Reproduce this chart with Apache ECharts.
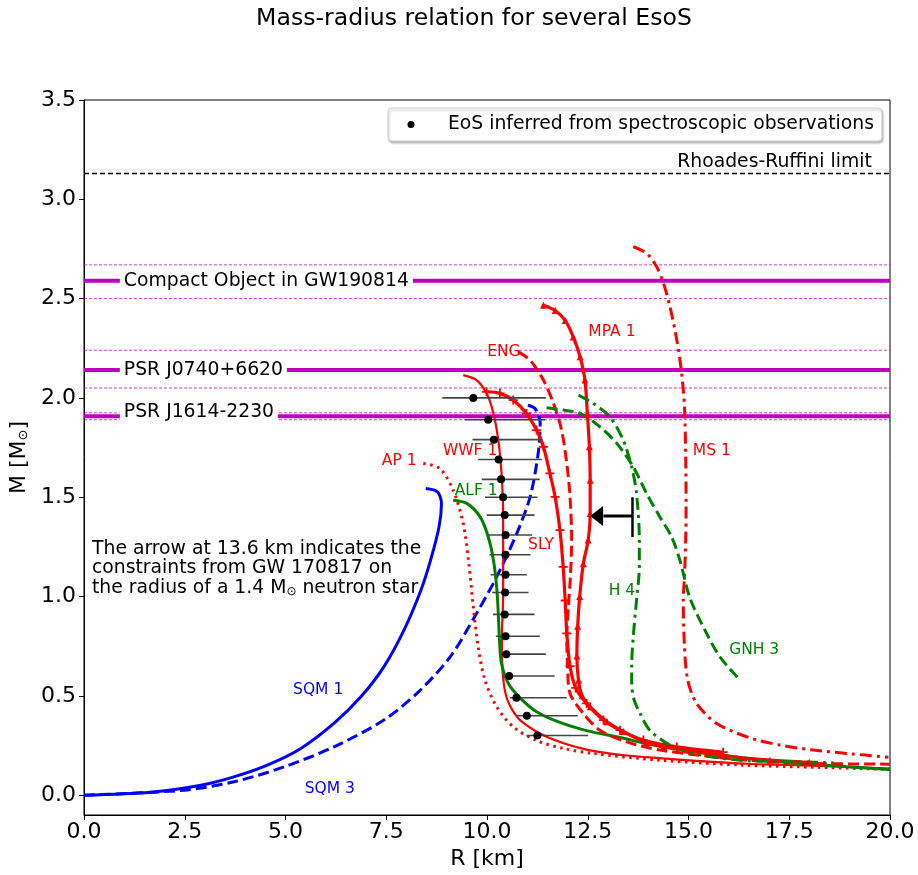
<!DOCTYPE html>
<html><head><meta charset="utf-8">
<script src="https://cdn.jsdelivr.net/npm/echarts@6/dist/echarts.min.js"></script>
<style>html,body{margin:0;padding:0;background:#fff}#c{width:918px;height:875px}</style>
</head><body><div id="c"></div>
<script>
const FONT = 'DejaVu Sans';
const xTicks = [0, 2.5, 5, 7.5, 10, 12.5, 15, 17.5, 20];
const yTicks = [0, 0.5, 1.0, 1.5, 2.0, 2.5, 3.0, 3.5];

// Observational points with horizontal error bars
const obsR  = [9.66,10.03,10.17,10.29,10.35,10.40,10.44,10.46,10.46,10.46,10.45,10.44,10.46,10.48,10.55,10.73,10.99,11.25];
const obsM  = [2.00,1.89,1.79,1.69,1.59,1.50,1.41,1.31,1.21,1.11,1.02,0.91,0.80,0.71,0.60,0.49,0.40,0.30];
const obsLo = [8.89,9.45,9.64,9.78,9.87,9.95,9.99,10.01,10.06,10.09,10.13,10.15,10.22,10.32,10.43,10.57,10.74,10.98];
const obsHi = [11.46,11.44,11.38,11.36,11.31,11.25,11.18,11.12,11.08,10.99,11.03,11.18,11.31,11.46,11.68,11.98,12.25,12.51];

// Mass limits [lower, central, upper]
const rhoadesRuffini = 3.13;
const gw190814 = [2.50, 2.59, 2.67];
const j0740 = [2.05, 2.14, 2.24];
const j1614 = [1.89, 1.908, 1.925];

// GW170817 radius constraint
const arrowR = 13.61, arrowM = 1.406, arrowBarLo = 1.30, arrowBarHi = 1.50, arrowTipR = 12.56;

// EoS curves [R km, M Msun]
const sqm1 = [[0,0],[1.66,0.015],[2.90,0.05],[3.72,0.092],[4.55,0.151],[5.38,0.235],[6.20,0.361],[6.87,0.495],[7.44,0.646],[7.94,0.831],[8.36,1.032],[8.60,1.183],[8.81,1.351],[8.87,1.469],[8.77,1.527],[8.48,1.544]];
const sqm3 = [[0,0],[2.48,0.025],[3.72,0.067],[4.96,0.142],[6.20,0.243],[7.44,0.378],[8.30,0.52],[9.10,0.70],[9.74,0.915],[10.24,1.099],[10.74,1.318],[11.07,1.502],[11.27,1.721],[11.32,1.872],[11.19,1.947],[10.94,1.967]];
const ap1  = [[8.42,1.670],[8.83,1.645],[9.16,1.536],[9.41,1.368],[9.54,1.183],[9.66,0.948],[9.78,0.747],[9.95,0.579],[10.24,0.445],[10.65,0.344],[11.23,0.275],[11.90,0.235],[12.63,0.210],[14.29,0.176],[16.35,0.151],[18.20,0.140],[20.0,0.130]];
const wwf1 = [[9.41,2.115],[9.74,2.090],[9.99,2.023],[10.16,1.922],[10.28,1.788],[10.36,1.62],[10.40,1.418],[10.40,1.2],[10.40,1.0],[10.37,0.80],[10.38,0.65],[10.45,0.52],[10.57,0.45],[10.82,0.378],[11.48,0.294],[12.47,0.229],[13.40,0.201],[14.38,0.185],[15.12,0.174],[16.44,0.158],[18.09,0.148],[20.0,0.134]];
const alf1 = [[9.16,1.485],[9.50,1.469],[9.83,1.401],[10.03,1.301],[10.16,1.183],[10.24,1.049],[10.28,0.915],[10.31,0.780],[10.36,0.663],[10.53,0.562],[10.82,0.49],[11.23,0.42],[11.81,0.366],[12.47,0.325],[13.30,0.29],[14.30,0.245],[15.70,0.205],[17.27,0.168],[18.93,0.143],[20.0,0.129]];
const sly  = [[9.99,2.031],[10.32,2.023],[10.65,1.989],[10.98,1.922],[11.23,1.838],[11.40,1.754],[11.56,1.620],[11.69,1.502],[11.81,1.334],[11.89,1.149],[11.94,0.98],[11.98,0.814],[12.06,0.65],[12.20,0.54],[12.47,0.462],[12.89,0.378],[13.30,0.327],[13.88,0.277],[14.71,0.243],[15.86,0.216]];
const mpa1 = [[11.40,2.467],[11.69,2.44],[11.94,2.39],[12.14,2.307],[12.31,2.207],[12.43,2.09],[12.49,1.922],[12.54,1.754],[12.56,1.586],[12.56,1.418],[12.51,1.284],[12.39,1.165],[12.30,1.0],[12.25,0.85],[12.23,0.70],[12.27,0.579],[12.36,0.50],[12.56,0.445],[12.97,0.37],[13.38,0.32],[13.96,0.265],[14.38,0.245],[14.96,0.227],[15.78,0.201],[17.02,0.176],[18.0,0.165]];
const eng  = [[10.78,2.232],[11.07,2.19],[11.40,2.09],[11.65,1.972],[11.85,1.838],[11.98,1.670],[12.06,1.502],[12.10,1.284],[12.07,1.1],[12.02,0.95],[11.98,0.80],[12.00,0.65],[12.06,0.512],[12.39,0.411],[12.80,0.327],[13.47,0.268],[14.29,0.227],[16.44,0.176],[18.09,0.160],[20.0,0.156]];
const ms1  = [[13.63,2.761],[13.96,2.728],[14.21,2.660],[14.38,2.577],[14.54,2.459],[14.71,2.291],[14.83,2.123],[14.90,1.955],[14.93,1.703],[14.94,1.452],[14.93,1.284],[14.90,1.1],[14.87,0.982],[14.90,0.75],[14.98,0.58],[15.20,0.462],[15.70,0.361],[16.50,0.29],[17.27,0.252],[18.10,0.227],[18.93,0.210],[19.96,0.191]];
const h4   = [[12.27,2.014],[12.64,1.972],[13.05,1.905],[13.38,1.788],[13.59,1.653],[13.71,1.519],[13.78,1.284],[13.78,1.15],[13.71,0.982],[13.63,0.80],[13.59,0.65],[13.59,0.562],[13.65,0.48],[13.80,0.411],[14.04,0.327],[14.54,0.252],[15.12,0.210],[16.28,0.176],[18.10,0.166],[18.6,0.162]];
const gnh3 = [[11.48,1.950],[11.89,1.939],[12.31,1.922],[12.80,1.855],[13.22,1.771],[13.63,1.653],[13.96,1.519],[14.29,1.401],[14.58,1.301],[14.79,1.18],[15.04,0.99],[15.45,0.814],[15.78,0.696],[16.28,0.579]];

const curveLabels = [
  ['MPA 1', 13.10, 2.331, '#ff0000'], ['ENG', 10.42, 2.231, '#ff0000'],
  ['WWF 1', 9.58, 1.732, '#ff0000'], ['AP 1', 7.82, 1.682, '#ff0000'],
  ['ALF 1', 9.73, 1.531, '#008000'], ['SLY', 11.34, 1.259, '#ff0000'],
  ['MS 1', 15.58, 1.732, '#ff0000'], ['H 4', 13.35, 1.027, '#008000'],
  ['GNH 3', 16.63, 0.730, '#008000'], ['SQM 1', 5.81, 0.529, '#0000ff'],
  ['SQM 3', 6.10, 0.030, '#0000ff']
];

const RED = '#ff0000', GREEN = '#008000', BLUE = '#0000ff', MAG = '#bf00bf';
const crossPath = 'path://M4,0h2v4h4v2h-4v4h-2v-4h-4v-2h4z';
const TXT = 18.8;

function curve(name, data, color, width, type, extra) {
  return Object.assign({
    name, type: 'line', data, smooth: 0.3, showSymbol: false, symbol: 'none',
    lineStyle: { color, width, type: type || 'solid', cap: 'butt' },
    itemStyle: { color, opacity: 1 }, z: 3, silent: true
  }, extra || {});
}
function hline(M, color, width, type, z) {
  return { type: 'line', data: [[0, M], [20, M]], symbol: 'none', silent: true,
    lineStyle: { color, width, type }, z: z || 2 };
}

const series = [];
[gw190814, j0740, j1614].forEach(l => {
  series.push(hline(l[0], 'rgba(191,0,191,0.75)', 1, [3, 2], 2));
  series.push(hline(l[2], 'rgba(191,0,191,0.75)', 1, [3, 2], 2));
  series.push(hline(l[1], MAG, 4, 'solid', 2));
});
series.push(hline(rhoadesRuffini, '#000', 1.5, [5, 3], 2));

series.push(curve('SQM 1', sqm1, BLUE, 3, 'solid'));
series.push(curve('SQM 3', sqm3, BLUE, 3, [11, 5]));
series.push(curve('AP 1', ap1, RED, 3, [2.5, 4.5]));
series.push(curve('WWF 1', wwf1, RED, 2.2, 'solid'));
series.push(curve('ALF 1', alf1, GREEN, 3, 'solid'));
series.push(curve('ENG', eng, RED, 3, [11, 5]));
series.push(curve('SLY', sly, RED, 3.2, 'solid', { showSymbol: true, symbol: crossPath, symbolSize: 9 }));
series.push(curve('MPA 1', mpa1, RED, 3.2, 'solid', { showSymbol: true, symbol: 'triangle', symbolSize: 7 }));
series.push(curve('MS 1', ms1, RED, 3, [12, 5, 3, 5]));
series.push(curve('H 4', h4, GREEN, 3, [12, 5, 3, 5]));
series.push(curve('GNH 3', gnh3, GREEN, 3, [11, 5]));

series.push({
  type: 'custom', silent: true, z: 4,
  data: obsR.map((r, i) => [obsLo[i], obsHi[i], obsM[i]]),
  renderItem: (params, api) => {
    const a = api.coord([api.value(0), api.value(2)]);
    const b = api.coord([api.value(1), api.value(2)]);
    return { type: 'line', shape: { x1: a[0], y1: a[1], x2: b[0], y2: b[1] },
      style: { stroke: '#444', lineWidth: 1.6 } };
  }
});
series.push({
  name: 'EoS inferred from spectroscopic observations', type: 'scatter', z: 5, silent: true,
  data: obsR.map((r, i) => [r, obsM[i]]), symbolSize: 8, itemStyle: { color: '#000', opacity: 1 }
});

series.push({ type: 'line', data: [[arrowR, arrowM], [arrowTipR + 0.33, arrowM]], symbol: 'none', silent: true, z: 6,
  lineStyle: { color: '#000', width: 3 } });
series.push({ type: 'line', data: [[arrowR, arrowBarLo], [arrowR, arrowBarHi]], symbol: 'none', silent: true, z: 6,
  lineStyle: { color: '#000', width: 2.5 } });
series.push({ type: 'scatter', data: [[arrowTipR + 0.16, arrowM]], symbol: 'triangle', symbolRotate: 90,
  symbolSize: [20, 13], itemStyle: { color: '#000', opacity: 1 }, silent: true, z: 6 });

series.push({
  type: 'scatter', symbolSize: 0, silent: true, z: 7, itemStyle: { opacity: 1 },
  data: curveLabels.map(c => ({ value: [c[1], c[2]], label: { formatter: c[0], color: c[3] } })),
  label: { show: true, position: 'inside', fontSize: 15.5, fontFamily: FONT, opacity: 1 }
});
const limitLabels = [['Compact Object in GW190814', gw190814[1]], ['PSR J0740+6620', j0740[1]], ['PSR J1614-2230', 1.927]];
series.push({
  type: 'scatter', symbolSize: 0, silent: true, z: 7, itemStyle: { opacity: 1 },
  data: limitLabels.map(l => ({ value: [0.89, l[1]], label: { formatter: l[0] } })),
  label: { show: true, position: 'right', distance: 0, fontSize: TXT, fontFamily: FONT, color: '#000', opacity: 1,
    backgroundColor: '#fff', padding: [2, 4, 1, 4] }
});
series.push({
  type: 'scatter', symbolSize: 0, silent: true, z: 7, itemStyle: { opacity: 1 },
  data: [{ value: [19.55, 3.187], label: { formatter: 'Rhoades-Ruffini limit' } }],
  label: { show: true, position: 'left', distance: 0, fontSize: TXT, fontFamily: FONT, color: '#000', opacity: 1 }
});

const chart = echarts.init(document.getElementById('c'), null, { renderer: 'canvas' });
chart.setOption({
  animation: false,
  backgroundColor: '#fff',
  title: { text: 'Mass-radius relation for several EsoS', left: 469, top: 2, textAlign: 'center',
    textStyle: { fontFamily: FONT, fontSize: 23.6, fontWeight: 'normal', color: '#000' } },
  grid: { left: 84, right: 28, top: 100, bottom: 60, show: true, borderColor: '#000', borderWidth: 1, backgroundColor: 'transparent' },
  xAxis: {
    type: 'value', min: 0, max: 20, interval: 2.5,
    name: 'R [km]', nameLocation: 'middle', nameGap: 30,
    nameTextStyle: { fontFamily: FONT, fontSize: 22, color: '#000' },
    axisLine: { onZero: false, lineStyle: { color: '#000', width: 1 } },
    axisTick: { show: true, length: 5, lineStyle: { color: '#000' } },
    axisLabel: { margin: 6, fontFamily: FONT, fontSize: 22, color: '#000', formatter: v => v.toFixed(1) },
    splitLine: { show: false }
  },
  yAxis: {
    type: 'value', min: -0.1, max: 3.5,
    name: 'M [M{s|⊙}]', nameLocation: 'middle', nameGap: 52,
    nameTextStyle: { fontFamily: FONT, fontSize: 22, color: '#000',
      rich: { s: { fontFamily: FONT, fontSize: 13, color: '#000', verticalAlign: 'bottom' } } },
    axisLine: { onZero: false, lineStyle: { color: '#000', width: 1 } },
    axisTick: { show: true, length: 5, lineStyle: { color: '#000' }, customValues: yTicks },
    axisLabel: { margin: 8, fontFamily: FONT, fontSize: 22, color: '#000', customValues: yTicks, formatter: v => v.toFixed(1) },
    splitLine: { show: false }
  },
  series,
  graphic: [
    { type: 'rect', shape: { x: 388, y: 108, width: 494, height: 33, r: 4 },
      style: { fill: '#fff', stroke: '#ccc', lineWidth: 1, shadowBlur: 2, shadowOffsetX: 1, shadowOffsetY: 2, shadowColor: 'rgba(0,0,0,0.25)' }, z: 100 },
    { type: 'circle', shape: { cx: 411, cy: 124.5, r: 3.5 }, style: { fill: '#000' }, z: 101 },
    { type: 'text', x: 448, y: 124.5, style: { text: 'EoS inferred from spectroscopic observations', fontFamily: FONT, fontSize: TXT, fill: '#000', verticalAlign: 'middle' }, z: 101 },
    { type: 'text', x: 92, y: 539, style: {
        text: 'The arrow at 13.6 km indicates the\nconstraints from GW 170817 on\nthe radius of a 1.4 M{s|⊙} neutron star',
        fontFamily: FONT, fontSize: TXT, lineHeight: 19.5, fill: '#000',
        rich: { s: { fontFamily: FONT, fontSize: 12, verticalAlign: 'bottom', lineHeight: 19.5 } } }, z: 101 }
  ]
});
</script></body></html>
